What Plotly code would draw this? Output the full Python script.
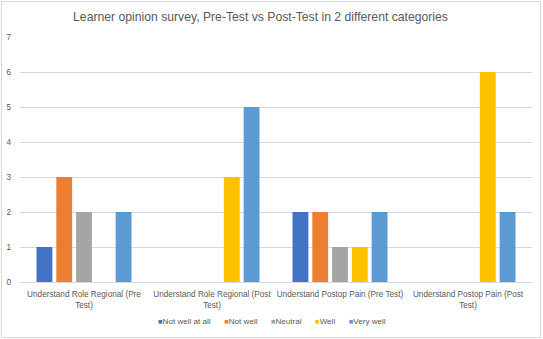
import plotly.graph_objects as go

categories = [
    "Understand Role Regional (Pre<br>Test)",
    "Understand Role Regional (Post<br>Test)",
    "Understand Postop Pain (Pre Test)",
    "Understand Postop Pain (Post<br>Test)",
]
series_names = ["Not well at all", "Not well", "Neutral", "Well", "Very well"]
not_well_at_all = [1, 0, 2, 0]
not_well = [3, 0, 2, 0]
neutral = [2, 0, 1, 0]
well = [0, 3, 1, 6]
very_well = [2, 5, 2, 2]
colors = ["#4472C4", "#ED7D31", "#A5A5A5", "#FFC000", "#5B9BD5"]

values = [not_well_at_all, not_well, neutral, well, very_well]

W, H = 543, 339
ml, mr, mt, mb = 20, 11, 37, 57
pw, ph = W - ml - mr, H - mt - mb

fig = go.Figure()
for name, vals, c in zip(series_names, values, colors):
    fig.add_trace(go.Bar(x=categories, y=vals, name=name, marker_color=c,
                         marker_line_width=0, showlegend=False))

font = "Liberation Sans, Arial, sans-serif"
txt = "#595959"

# compact legend in the style of the original (square + label)
gap = "&nbsp;" * 6
legend_text = gap.join(
    f"<span style='color:{c};font-size:7.5px'>■</span>{n}"
    for n, c in zip(series_names, colors)
)


def px_x(p):
    return (p - ml) / pw


def px_y(p):
    return (H - mb - p) / ph


fig.update_layout(
    width=W, height=H,
    margin=dict(l=ml, r=mr, t=mt, b=mb, autoexpand=False),
    paper_bgcolor="white", plot_bgcolor="white",
    barmode="group", bargap=0.227, bargroupgap=0.2,
    title=dict(text="Learner opinion survey, Pre-Test vs Post-Test in 2 different categories",
               xref="container", x=260.5 / W, xanchor="center",
               y=1 - 17 / H, yanchor="middle",
               font=dict(family=font, size=12.2, color=txt)),
    font=dict(family=font, size=8.2, color=txt),
    showlegend=False,
    xaxis=dict(showgrid=False, showline=True, linecolor="#D9D9D9", linewidth=1,
               ticks="", tickangle=0, automargin=False, ticklabelstandoff=4,
               tickfont=dict(size=8.2, color=txt)),
    yaxis=dict(range=[0, 7], dtick=1, showgrid=True, gridcolor="#D9D9D9",
               gridwidth=1, zeroline=False, showline=False, ticks="",
               automargin=False,
               tickfont=dict(size=8.2, color=txt), ticklabelstandoff=8),
    annotations=[dict(text=legend_text, xref="paper", yref="paper",
                      x=px_x(272), y=px_y(321),
                      xanchor="center", yanchor="middle", showarrow=False,
                      font=dict(family=font, size=8.1, color=txt))],
    shapes=[dict(type="rect", xref="paper", yref="paper",
                 x0=px_x(1.5), x1=px_x(540.5),
                 y0=px_y(337.5), y1=px_y(1.5),
                 line=dict(color="#D9D9D9", width=1), layer="below")],
)

fig.write_html("out.html")
